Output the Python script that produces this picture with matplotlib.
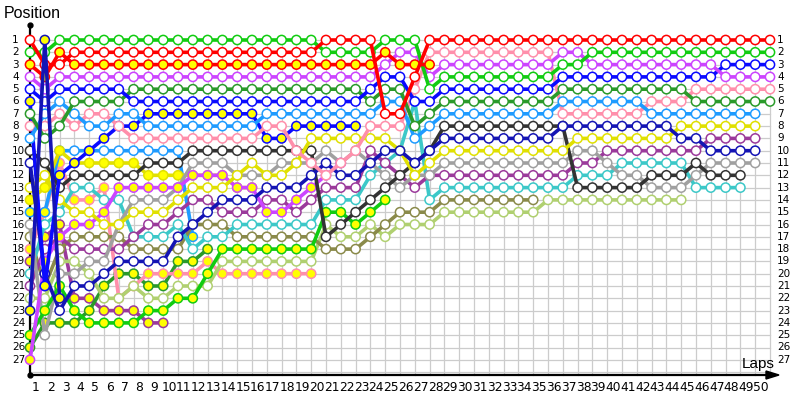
import matplotlib
matplotlib.use("Agg")
import matplotlib.pyplot as plt
from matplotlib.patches import Polygon

# ---------------- data ----------------
position_labels = [str(p) for p in range(1, 28)]
lap_labels = [str(k) for k in range(1, 51)]

red_w = [1,3,3,2,2,2,2,2,2,2, 2,2,2,2,2,2,2,2,2,2, 1,1,1,1,7,7,4,1,1,1,
         1,1,1,1,1,1,1,1,1,1, 1,1,1,1,1,1,1,1,1,1, 1]
red_y = [3,4,2,3,3,3,3,3,3,3, 3,3,3,3,3,3,3,3,3,3, 3,3,3,3,2,3,3,3]
green_w = [2,2,1,1,1,1,1,1,1,1, 1,1,1,1,1,1,1,1,1,1, 2,2,2,2,1,1,1,5,4,4,
           4,4,4,4,4,4,3,3,2,2, 2,2,2,2,2,2,2,2,2,2, 2]
green_y = [25,23,21,23,24,24,24,24,23,23, 22,22,20,18,18,18,18,18,18,18, 15,15,16,15,14]
violet_w = [4,5,4,4,4,4,4,4,4,4, 4,4,4,4,4,4,4,4,4,4, 4,4,4,4,3,2,2,4,3,3,
            3,3,3,3,3,3,2,2,3,3, 3,3,3,3,3,3,3,4,4,4, 4]
violet_y = [27,19,17,16,16,15,13,13,13,13, 13,12,12,12,13,13,15,15,14,13, 12,11]
blue_w = [5,6,5,5,5,5,5,6,6,6, 6,6,6,6,6,6,6,6,6,6, 6,6,6,5,4,4,6,6,5,5,
          5,5,5,5,5,5,4,4,4,4, 4,4,4,4,4,4,4,3,3,3, 3]
blue_y = [6,21,12,11,10,9,8,8,7,7, 7,7,7,7,7,7,9,9,8,8, 8,8,8]
forest_w = [7,9,8,6,6,6,6,5,5,5, 5,5,5,5,5,5,5,5,5,5, 5,5,5,6,5,5,8,7,6,6,
            6,6,6,6,6,6,5,5,5,5, 5,5,5,5,5,6,6,6,6,6, 6]
forest_y = [26,24,24,24,23,21,20,20,21,21, 19,19,18]
lblue_w = [9,7,6,7,8,8,7,7,8,8, 8,8,8,8,8,8,7,7,7,7, 7,7,7,7,6,6,9,8,7,7,
           7,7,7,7,7,7,6,6,6,6, 6,6,7,7,7,7,7,7,7,7]
lblue_y = [15,15,10,10,10,10,10,10,10,10, 10,17]
pink_w = [8,8,7,8,7,7,8,9,9,9, 9,9,9,9,9,9,8,8,10,11, 12,11,10,8,8,8,5,2,2,2,
          2,2,2,2,2,2,7,7,7,7, 7,7,6,6,6,5,5,5,5,5, 5]
pink_y = [18,15,11,14,14,13,22,21,20,20, 20,20,19,20,20,20,20,20,20,20]
navy_w = [11,20,23,21,21,20,19,19,19,19, 17,16,15,14,14,14,13,13,13,12,
          11,12,12,11,10,10,11,10,9,9, 9,9,9,9,9,9,8,8,8,8, 8,8,8,8,9,9,10,10,10,10]
navy_y = [23,1,22]
black_w = [10,11,13,12,12,12,12,12,11,11, 11,10,10,10,10,10,10,10,10,10,
           17,16,15,14,13,12,11,10,8,8, 8,8,8,8,8,8,8,13,13,13, 13,13,12,12,12,11,12,12,12]
yellow_w = [13,12,14,15,15,16,16,15,15,15, 14,13,13,13,12,11,12,12,11,9,
            9,9,9,9,9,10,12,11,10,10, 10,10,10,10,10,10,10,9,9,9, 9,9,9,9,8,8,8,8,8,8]
yellow_y = [14,13,10,11,11,11,11,11,12,12, 12,12,12,12,13,13]
gray_w = [16,25,20,20,19,19,16,14,14,14, 13,11,11,11,12,12,12,11,11,11,
          10,11,10,11,12,13,12,12,11,11, 11,11,11,11,11,11,11,10,10,11, 12,12,13,13,13,12,11,11,11,11]
cyan_w = [20,16,15,13,13,14,14,17,17,17, 16,18,17,17,16,16,16,16,16,16,
          14,14,14,12,11,10,6,14,13,13, 13,13,13,13,13,13,13,12,12,12, 11,11,11,11,11,13,13,13,13]
olive_w = [17,21,18,17,17,17,17,18,18,18, 18,16,16,16,17,17,17,17,17,17,
           18,18,18,17,16,15,15,15,14,14, 14,14,14,14,14]
lolive_w = [22,22,19,19,20,22,22,21,22,22, 21,21,21,19,19,19,19,19,19,19,
            16,17,17,16,17,16,16,16,15,15, 15,15,15,15,15,14,14,14,14,14, 14,14,14,14,14]
purple_w = [21,18,17,18,18,18,18,17,16,16, 15,14,14,15,15,15,14,14,15,14,
            13,13,13,10,11,12,13,12,12,12, 12,12,12,12,12,12,12,11,11,10, 10,10,10,10,10,10,9,9,9,9]
purple_y = [19,17,16,22,22,23,23,23,24,24]

# fill codes per driver: 'W' white, 'Y' yellow
drivers = [
    # (positions, fill code, color)
    (purple_y, "Y", "#9b3a9b"),
    (forest_y, "Y", "#2a9a2a"),
    (pink_y, "Y", "#ff8fab"),
    (lblue_y, "YYWWWWWWWWWY", "#1e9bff"),
    (yellow_y, "Y", "#e0e000"),
    (lolive_w, "W", "#b0d070"),
    (olive_w, "W", "#8a8a4a"),
    (cyan_w, "W", "#3cc8c8"),
    (purple_w, "W", "#9b3a9b"),
    (gray_w, "W", "#a0a0a0"),
    (green_y, "Y", "#11cc11"),
    (violet_y, "Y", "#cc44ff"),
    (black_w, "W", "#333333"),
    (yellow_w, "W", "#e0e000"),
    (navy_w, "W", "#1414b4"),
    (blue_y, "Y", "#0a0aff"),
    (pink_w, "W", "#ff8fab"),
    (lblue_w, "W", "#1e9bff"),
    (forest_w, "W", "#2a9a2a"),
    (blue_w, "W", "#0a0aff"),
    (violet_w, "W", "#cc44ff"),
    (green_w, "W", "#11cc11"),
    (red_y, "Y", "#ff0000"),
    (red_w, "W", "#ff0000"),
    (navy_y, "Y", "#1414b4"),
]

# ---------------- layout ----------------
X0, DX = 30.0, 14.8     # pixel of lap 0, pixels per lap
Y0, DY = 40.0, 12.3     # pixel of position 1, pixels per position
W, H = 800, 400

def lx(px):
    return (px - X0) / DX

def py(pyx):
    return (pyx - Y0) / DY + 1

fig = plt.figure(figsize=(8, 4), dpi=100)
ax = fig.add_axes([0, 0, 1, 1])
ax.set_xlim(lx(0), lx(W))
ax.set_ylim(py(H), py(0))
ax.axis("off")

n_laps = len(lap_labels)
n_pos = len(position_labels)
y_axis = py(375)
y_top = py(25)
grid_c = "#cccccc"

for k in range(0, n_laps + 1):
    ax.plot([k, k], [1, y_axis], color=grid_c, lw=0.9, zorder=1)
for p in range(1, n_pos + 2):
    ax.plot([0, n_laps], [p, p], color=grid_c, lw=0.9, zorder=1)

# axes lines
ax.plot([0, 0], [y_top, y_axis], color="black", lw=1.6, zorder=5)
ax.plot([0, lx(768)], [y_axis, y_axis], color="black", lw=1.6, zorder=5)
ax.plot([0], [y_top], "o", color="black", ms=3.5, zorder=6)
ax.plot([0], [y_axis], "o", color="black", ms=3.5, zorder=6)
ax.add_patch(Polygon([[lx(766), py(371)], [lx(779), y_axis], [lx(766), py(379)]],
                     closed=True, color="black", zorder=6))

# labels
for i, lab in enumerate(position_labels):
    p = i + 1
    ax.text(lx(12), p, lab, ha="left", va="center", fontsize=7.5, family="DejaVu Sans")
    ax.text(lx(777), p, lab, ha="left", va="center", fontsize=7.5, family="DejaVu Sans")
for i, lab in enumerate(lap_labels):
    k = i + 1
    ax.text(k - 0.6, py(388), lab, ha="center", va="center", fontsize=8.8, family="DejaVu Sans")
ax.text(lx(4), py(14), "Position", ha="left", va="center", fontsize=11.5, family="Liberation Sans")
ax.text(lx(742), py(364), "Laps", ha="left", va="center", fontsize=11, family="Liberation Sans")

# driver lines
z = 10
for pos, fill, col in drivers:
    laps = list(range(len(pos)))
    ax.plot(laps, pos, color=col, lw=2.6, zorder=z, solid_capstyle="round")
    if len(fill) == 1:
        fill = fill * len(pos)
    faces = ["#ffff00" if c == "Y" else "white" for c in fill]
    ax.scatter(laps, pos, s=44, facecolors=faces, edgecolors=col, linewidths=1.1, zorder=z + 0.5)
    z += 1

fig.savefig("out.png", dpi=100)
